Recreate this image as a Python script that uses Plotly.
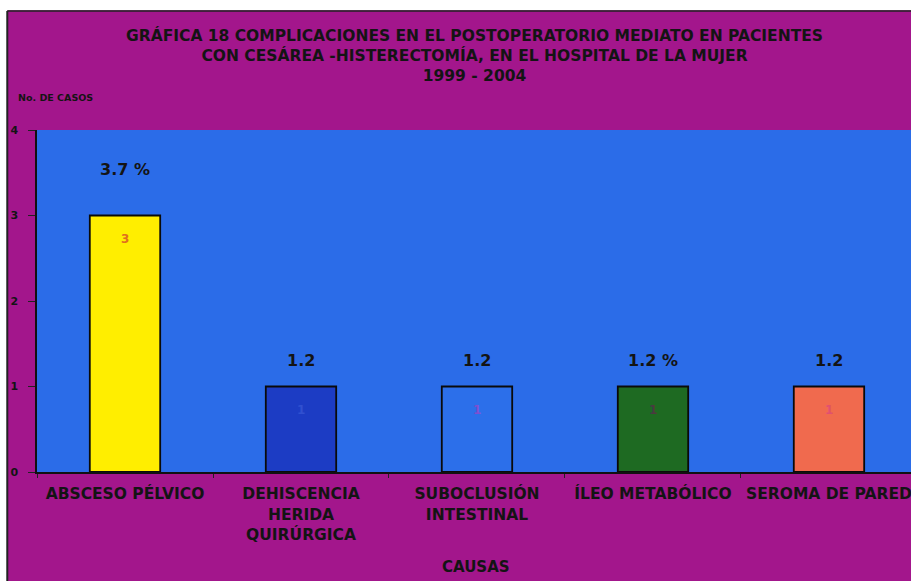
import plotly.graph_objects as go

categories = ["ABSCESO PÉLVICO", "DEHISCENCIA<br>HERIDA<br>QUIRÚRGICA", "SUBOCLUSIÓN<br>INTESTINAL",
              "ÍLEO METABÓLICO", "SEROMA DE PARED"]
cases = [3, 1, 1, 1, 1]
pct_labels = ["3.7 %", "1.2", "1.2", "1.2 %", "1.2"]
y_ticks = [0, 1, 2, 3, 4]

bar_colors = ["#FFEE00", "#1C3CC4", "#2C6FEA", "#1E6A22", "#F06A4E"]
inner_colors = ["#E0701E", "#3050D0", "#7F4FD0", "#4A3A40", "#E05070"]
pct_shift = [46, 26, 26, 26, 26]

MAGENTA = "#A3168C"
BLUE = "#2B6CE8"
FONT = "DejaVu Sans"
INK = "#141414"

fig = go.Figure()
fig.add_trace(go.Bar(
    x=categories, y=cases, width=0.4,
    marker=dict(color=bar_colors, line=dict(color="#0A0A0A", width=1.8)),
    hoverinfo="skip",
))

annotations = []
for c, v, t, s, col in zip(categories, cases, pct_labels, pct_shift, inner_colors):
    annotations.append(dict(x=c, y=v, text=t, showarrow=False, yshift=s,
                            font=dict(family=FONT, size=16, color=INK, weight="bold")))
    annotations.append(dict(x=c, y=v, text=str(v), showarrow=False, yshift=-23,
                            font=dict(family=FONT, size=12, color=col, weight="bold")))

annotations += [
    dict(xref="paper", yref="paper", x=0.5, y=1.219, yanchor="middle", showarrow=False,
         text="GRÁFICA 18 COMPLICACIONES EN EL POSTOPERATORIO MEDIATO EN PACIENTES<br>"
              "CON CESÁREA -HISTERECTOMÍA, EN EL HOSPITAL DE LA MUJER<br>1999 - 2004",
         font=dict(family=FONT, size=15.5, color=INK, weight="bold")),
    dict(xref="paper", yref="paper", x=-0.024, y=1.096, xanchor="left", yanchor="middle",
         showarrow=False, text="No. DE CASOS",
         font=dict(family=FONT, size=9.5, color=INK, weight="bold")),
    dict(xref="paper", yref="paper", x=0.502, y=-0.278, yanchor="middle", showarrow=False,
         text="CAUSAS", font=dict(family=FONT, size=15, color=INK, weight="bold")),
]

fig.update_layout(
    width=911, height=581,
    margin=dict(l=37, r=0, t=130, b=109),
    paper_bgcolor=MAGENTA, plot_bgcolor=BLUE,
    showlegend=False, bargap=0.6,
    annotations=annotations,
    shapes=[
        dict(type="rect", xref="paper", yref="paper", x0=-0.05, x1=1.05, y0=1.35, y1=1.45,
             fillcolor="white", line=dict(width=0), layer="above"),
        dict(type="rect", xref="paper", yref="paper", x0=-0.05, x1=-0.034, y0=-0.4, y1=1.45,
             fillcolor="white", line=dict(width=0), layer="above"),
        dict(type="line", xref="paper", yref="paper", x0=-0.034, x1=1.05, y0=1.348, y1=1.348,
             line=dict(color="#222222", width=1.5), layer="above"),
        dict(type="line", xref="paper", yref="paper", x0=-0.034, x1=-0.034, y0=-0.4, y1=1.348,
             line=dict(color="#222222", width=2), layer="above"),
    ],
    xaxis=dict(
        type="category", range=[-0.5, 4.466], tickson="boundaries",
        ticks="outside", ticklen=4, tickcolor="#222222",
        showline=True, linecolor="#111111", linewidth=1.5,
        tickfont=dict(family=FONT, size=15.5, color=INK, weight="bold"),
        ticklabelstandoff=7,
        showgrid=False,
    ),
    yaxis=dict(
        range=[0, 4], tickvals=y_ticks, ticks="outside", ticklen=7, tickcolor="#222222",
        showline=True, linecolor="#111111", linewidth=1.5,
        tickfont=dict(family=FONT, size=11, color=INK, weight="bold"),
        ticklabelstandoff=8,
        showgrid=False, zeroline=False,
    ),
)

fig.write_html("out.html", config={"displayModeBar": False},
               post_script="document.body.style.margin='0';document.body.style.overflow='hidden';")
